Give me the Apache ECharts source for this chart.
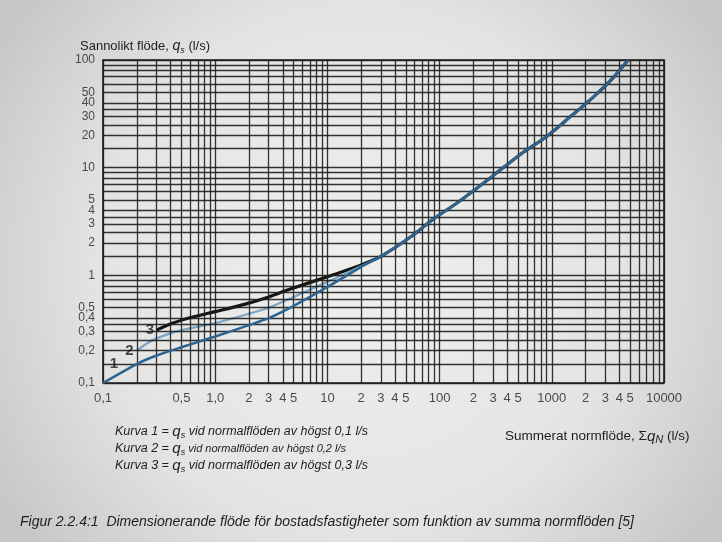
<!DOCTYPE html>
<html><head><meta charset="utf-8">
<script src="https://cdn.jsdelivr.net/npm/echarts@6/dist/echarts.min.js"></script>
<style>html,body{margin:0;padding:0;background:#dededc}#c{width:722px;height:542px}</style>
</head><body><div id="c"></div>
<script>
// ---- data ----
const curve1X = [0.1, 0.2, 0.3, 0.5, 1, 2, 3, 4.5, 7, 10, 15, 20];
const curve1Y = [0.1, 0.15, 0.18, 0.215, 0.27, 0.345, 0.4, 0.49, 0.63, 0.78, 1.0, 1.2];
const curve2X = [0.2, 0.25, 0.3, 0.5, 1, 2, 3, 5, 10, 15, 20];
const curve2Y = [0.2, 0.235, 0.26, 0.31, 0.36, 0.44, 0.5, 0.63, 0.87, 1.05, 1.22];
const curve3X = [0.3, 0.42, 0.63, 1, 1.85, 3, 4.4, 10, 15, 20];
const curve3Y = [0.31, 0.36, 0.41, 0.46, 0.54, 0.63, 0.73, 0.97, 1.12, 1.25];
const commonX = [30, 55, 87, 143, 290, 520, 900, 1450, 2330, 3500, 4800];
const commonY = [1.5, 2.27, 3.3, 4.7, 8.2, 13.2, 19.5, 29.5, 45, 68, 100];

const xTickValues = [0.1, 0.5, 1, 2, 3, 4, 5, 10, 20, 30, 40, 50, 100, 200, 300, 400, 500, 1000, 2000, 3000, 4000, 5000, 10000];
const xTickLabels = ['0,1','0,5','1,0','2','3','4','5','10','2','3','4','5','100','2','3','4','5','1000','2','3','4','5','10000'];
const yTickValues = [0.1, 0.2, 0.3, 0.4, 0.5, 1, 2, 3, 4, 5, 10, 20, 30, 40, 50, 100];
const yTickLabels = ['0,1','0,2','0,3','0,4','0,5','1','2','3','4','5','10','20','30','40','50','100'];

const curveLabelText = ['1', '2', '3'];
const curveLabelX = [0.125, 0.172, 0.262];
const curveLabelY = [0.15, 0.2, 0.31];

const xDecades = [0.1, 1, 10, 100, 1000];
const xSteps = [1, 2, 3, 4, 5, 6, 7, 8, 9];
const yDecades = [0.1, 1, 10];
const ySteps = [1, 1.5, 2, 2.5, 3, 3.5, 4, 5, 6, 7, 8, 9];

// ---- build ----
const pairs = (xs, ys) => xs.map((x, i) => [x, ys[i]]);
const gridXs = [];
xDecades.forEach(d => xSteps.forEach(s => gridXs.push(+(d * s).toPrecision(4))));
gridXs.push(10000);
const gridYs = [];
yDecades.forEach(d => ySteps.forEach(s => gridYs.push(+(d * s).toPrecision(4))));
gridYs.push(100);

const INK = '#1d1d1d';
const FONT = '"Liberation Sans", Arial, sans-serif';
const hiddenItem = { color: 'rgba(0,0,0,0)' };

const chart = echarts.init(document.getElementById('c'));
chart.setOption({
  animation: false,
  backgroundColor: new echarts.graphic.RadialGradient(0.5, 0.5, 0.8, [
    { offset: 0, color: '#efefed' },
    { offset: 0.6, color: '#e4e4e2' },
    { offset: 1, color: '#c6c6c4' }
  ]),
  textStyle: { fontFamily: FONT },
  grid: { left: 103, top: 60, width: 561, height: 323, show: true, borderColor: INK, borderWidth: 1.6, backgroundColor: 'transparent' },
  xAxis: { type: 'log', logBase: 10, min: 0.1, max: 10000,
    axisLine: { show: false }, axisTick: { show: false }, axisLabel: { show: false }, splitLine: { show: false } },
  yAxis: { type: 'log', logBase: 10, min: 0.1, max: 100,
    axisLine: { show: false }, axisTick: { show: false }, axisLabel: { show: false }, splitLine: { show: false } },
  series: [
    { type: 'scatter', name: 'gridlines', data: [], silent: true,
      markLine: { silent: true, symbol: ['none', 'none'], label: { show: false },
        lineStyle: { type: 'solid', color: INK, width: 1.3, opacity: 0.9 },
        data: gridXs.map(v => ({ xAxis: v })).concat(gridYs.map(v => ({ yAxis: v }))) } },
    { type: 'line', name: 'Kurva 3', data: pairs(curve3X.concat(commonX), curve3Y.concat(commonY)),
      smooth: 0.25, showSymbol: false, lineStyle: { color: '#161616', width: 3.2 }, z: 3 },
    { type: 'line', name: 'Kurva 2', data: pairs(curve2X.concat(commonX), curve2Y.concat(commonY)),
      smooth: 0.25, showSymbol: false, lineStyle: { color: '#7ea6c6', width: 2.3 }, z: 4 },
    { type: 'line', name: 'Kurva 1', data: pairs(curve1X.concat(commonX), curve1Y.concat(commonY)),
      smooth: 0.25, showSymbol: false, lineStyle: { color: '#2d6391', width: 2.5 }, z: 5 },
    { type: 'scatter', name: 'xticks', data: xTickValues.map(v => [v, 0.1]), symbolSize: 2,
      itemStyle: hiddenItem, clip: false, silent: true, z: 6,
      label: { show: true, position: 'bottom', distance: 8, color: '#222', fontSize: 13,
        formatter: p => xTickLabels[p.dataIndex] } },
    { type: 'scatter', name: 'yticks', data: yTickValues.map(v => [0.1, v]), symbolSize: 2,
      itemStyle: hiddenItem, clip: false, silent: true, z: 6,
      label: { show: true, position: 'left', distance: 7, color: '#222', fontSize: 12,
        formatter: p => yTickLabels[p.dataIndex] } },
    { type: 'scatter', name: 'curveLabels', data: pairs(curveLabelX, curveLabelY), symbolSize: 2,
      itemStyle: hiddenItem, clip: false, silent: true, z: 7,
      label: { show: true, position: 'inside', color: '#1a1a1a', fontSize: 15, fontWeight: 'bold',
        formatter: p => curveLabelText[p.dataIndex] } }
  ],
  graphic: [
    { type: 'text', left: 80, top: 39, style: { fill: '#1e1e1e',
      text: '{a|Sannolikt flöde, }{q|q}{s|s}{a| (l/s)}',
      rich: { a: { fontSize: 13, fill: '#1e1e1e' }, q: { fontSize: 14, fontStyle: 'italic', fill: '#1e1e1e' },
              s: { fontSize: 9, fontStyle: 'italic', padding: [8, 0, 0, 0], fill: '#1e1e1e' } } } },
    { type: 'text', left: 505, top: 429, style: { fill: '#1e1e1e',
      text: '{a|Summerat normflöde, Σ}{q|q}{n|N}{a| (l/s)}',
      rich: { a: { fontSize: 13.5, fill: '#1e1e1e' }, q: { fontSize: 15, fontStyle: 'italic', fill: '#1e1e1e' },
              n: { fontSize: 11, fontStyle: 'italic', padding: [6, 0, 0, 0], fill: '#1e1e1e' } } } },
    { type: 'text', left: 115, top: 424, style: { fill: '#1e1e1e',
      text: '{a|Kurva 1 = }{q|q}{s|s}{a| vid normalflöden av högst 0,1 l/s}',
      rich: { a: { fontSize: 12.5, fontStyle: 'italic', fill: '#1e1e1e' }, q: { fontSize: 15, fontStyle: 'italic', fill: '#1e1e1e' },
              s: { fontSize: 9, fontStyle: 'italic', padding: [7, 0, 0, 0], fill: '#1e1e1e' } } } },
    { type: 'text', left: 115, top: 441, style: { fill: '#1e1e1e',
      text: '{a|Kurva 2 = }{q|q}{s|s}{b| vid normalflöden av högst 0,2 l/s}',
      rich: { a: { fontSize: 12.5, fontStyle: 'italic', fill: '#1e1e1e' }, b: { fontSize: 11, fontStyle: 'italic', fill: '#1e1e1e' },
              q: { fontSize: 15, fontStyle: 'italic', fill: '#1e1e1e' },
              s: { fontSize: 9, fontStyle: 'italic', padding: [7, 0, 0, 0], fill: '#1e1e1e' } } } },
    { type: 'text', left: 115, top: 458, style: { fill: '#1e1e1e',
      text: '{a|Kurva 3 = }{q|q}{s|s}{a| vid normalflöden av högst 0,3 l/s}',
      rich: { a: { fontSize: 12.5, fontStyle: 'italic', fill: '#1e1e1e' }, q: { fontSize: 15, fontStyle: 'italic', fill: '#1e1e1e' },
              s: { fontSize: 9, fontStyle: 'italic', padding: [7, 0, 0, 0], fill: '#1e1e1e' } } } },
    { type: 'text', left: 20, top: 515, style: { fill: '#1e1e1e', font: 'italic 14px ' + FONT,
      text: 'Figur 2.2.4:1  Dimensionerande flöde för bostadsfastigheter som funktion av summa normflöden [5]' } }
  ]
});
</script></body></html>
